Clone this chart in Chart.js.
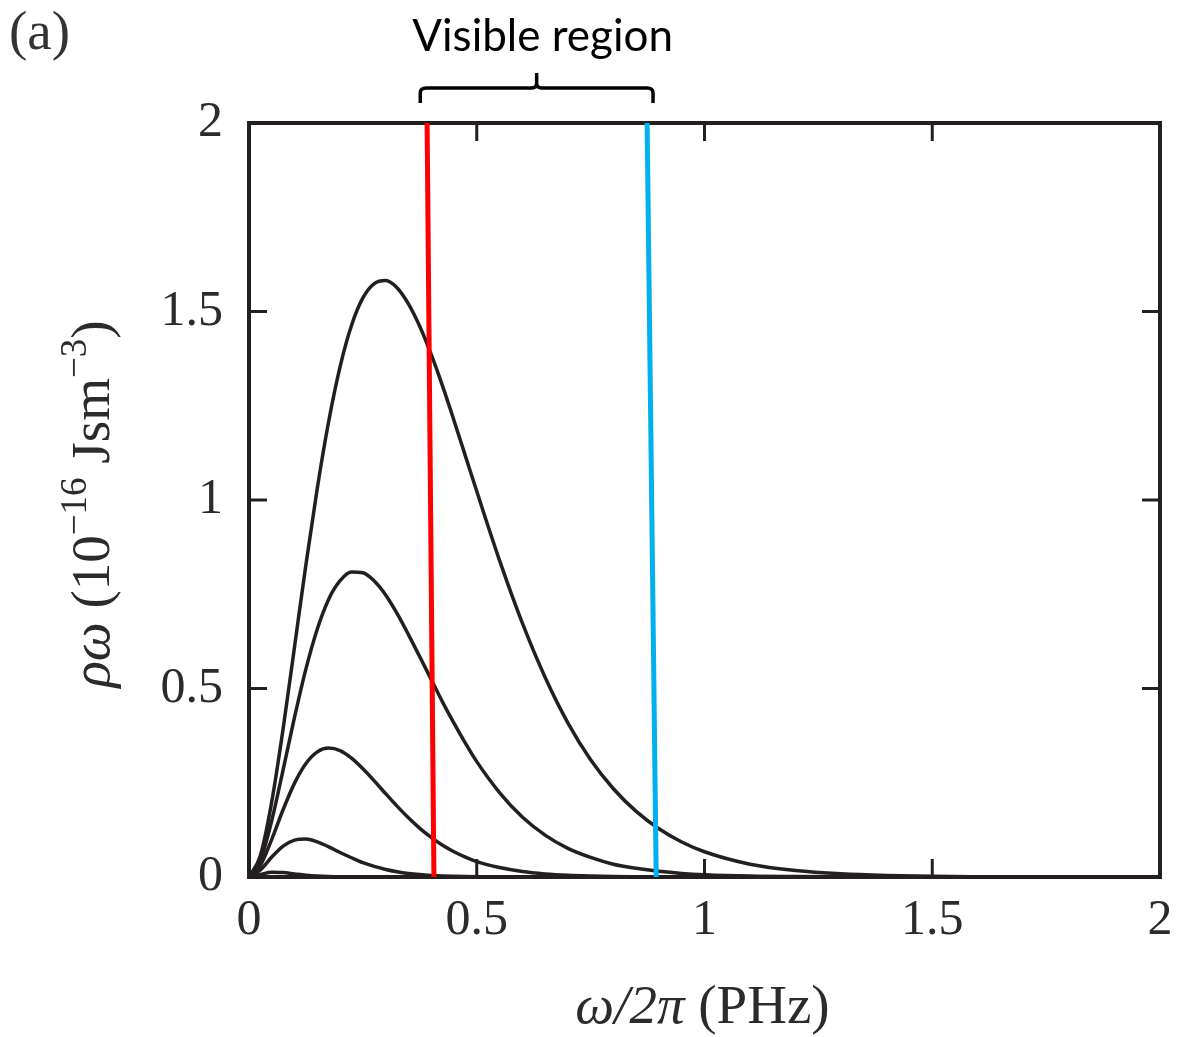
<!DOCTYPE html>
<html><head><meta charset="utf-8">
<script src="https://cdn.jsdelivr.net/npm/chart.js@4"></script>
<style>html,body{margin:0;padding:0;background:#fff;}</style>
</head><body>
<canvas id="c" width="1180" height="1037"></canvas>
<script>
// ---- data ----
const freq = [0,0.025,0.05,0.075,0.1,0.125,0.15,0.175,0.2,0.225,0.25,0.275,0.3,0.325,0.35,0.375,0.4,0.425,0.45,0.475,0.5,0.55,0.6,0.65,0.7,0.75,0.8,0.85,0.9,0.95,1.0,1.1,1.2,1.3,1.4,1.5,1.6,1.7,1.8,1.9,2.0];
const rhoT5000 = [0,0.057,0.200,0.394,0.611,0.829,1.032,1.209,1.354,1.463,1.536,1.574,1.582,1.563,1.520,1.460,1.386,1.302,1.211,1.117,1.023,0.840,0.674,0.530,0.409,0.311,0.234,0.174,0.128,0.093,0.067,0.034,0.017,0.0083,0.0040,0.0019,0.0009,0.0004,0.0002,0.0001,0.00004];
const rhoT4000 = [0,0.044,0.150,0.285,0.424,0.552,0.658,0.737,0.786,0.809,0.807,0.785,0.748,0.699,0.643,0.584,0.524,0.464,0.408,0.355,0.306,0.224,0.159,0.111,0.076,0.052,0.034,0.023,0.015,0.0095,0.0061,0.0024,0.0010,0.0004,0.00014,0.00005,0.00002,0.00001,0,0,0];
const rhoT3000 = [0,0.031,0.100,0.179,0.249,0.301,0.332,0.342,0.335,0.315,0.287,0.255,0.221,0.188,0.157,0.129,0.105,0.084,0.067,0.053,0.041,0.025,0.0145,0.0083,0.0046,0.0026,0.0014,0.0008,0.0004,0.0002,0.0001,0,0,0,0,0,0,0,0,0,0];
const rhoT2000 = [0,0.0187,0.053,0.082,0.098,0.101,0.093,0.080,0.065,0.051,0.038,0.028,0.020,0.014,0.0095,0.0064,0.0043,0.0028,0.0018,0.0012,0.0008,0.0003,0.0001,0.00005,0,0,0,0,0,0,0,0,0,0,0,0,0,0,0,0,0];
const rhoT1000 = [0,0.0066,0.0123,0.0117,0.0082,0.0048,0.0025,0.0012,0.0005,0.0002,0.0001,0,0,0,0,0,0,0,0,0,0,0,0,0,0,0,0,0,0,0,0,0,0,0,0,0,0,0,0,0,0];
const redEdgeX = [0.391, 0.406];
const redEdgeY = [2, 0];
const blueEdgeX = [0.874, 0.894];
const blueEdgeY = [2, 0];
const braceRange = [0.376, 0.887];
const tickValues = [0, 0.5, 1, 1.5, 2];
const tickLabels = ['0', '0.5', '1', '1.5', '2'];
const innerTicks = [0.5, 1, 1.5];
const xTitleParts = [{t: 'ω/2π', it: true}, {t: ' (PHz)'}];
const yTitleParts = [{t: 'ρω', it: true}, {t: ' (10'}, {t: '−16', sup: true}, {t: ' Jsm'}, {t: '−3', sup: true}, {t: ')'}];
const panelLabel = '(a)';
const annotationText = 'Visible region';

const pts = (xs, ys) => xs.map((v, i) => ({x: v, y: ys[i]}));
const ink = '#231f20';
const serif = '"Liberation Serif", "Times New Roman", serif';

const curve = (label, vals) => ({
  label, data: pts(freq, vals), borderColor: ink, borderWidth: 3.5,
  pointRadius: 0, fill: false, cubicInterpolationMode: 'monotone'
});

function drawRich(ctx, parts, size) {
  const fontOf = p => (p.it ? 'italic ' : '') + (p.sup ? Math.round(size * 0.68) : size) + 'px ' + serif;
  let total = 0;
  const widths = parts.map(p => { ctx.font = fontOf(p); const w = ctx.measureText(p.t).width; total += w; return w; });
  let x = -total / 2;
  ctx.textAlign = 'left';
  ctx.textBaseline = 'alphabetic';
  parts.forEach((p, i) => {
    ctx.font = fontOf(p);
    ctx.fillText(p.t, x, p.sup ? -size * 0.42 : 0);
    x += widths[i];
  });
}

const framePlugin = {
  id: 'frame',
  beforeDatasetsDraw(chart) {
    const {ctx, chartArea: a, scales: {x, y}} = chart;
    ctx.save();
    ctx.strokeStyle = ink;
    ctx.lineWidth = 4;
    ctx.strokeRect(a.left, a.top, a.right - a.left, a.bottom - a.top);
    ctx.lineWidth = 3;
    ctx.beginPath();
    innerTicks.forEach(v => {
      const px = x.getPixelForValue(v);
      ctx.moveTo(px, a.bottom); ctx.lineTo(px, a.bottom - 18);
      ctx.moveTo(px, a.top); ctx.lineTo(px, a.top + 18);
      const py = y.getPixelForValue(v);
      ctx.moveTo(a.left, py); ctx.lineTo(a.left + 18, py);
      ctx.moveTo(a.right, py); ctx.lineTo(a.right - 18, py);
    });
    ctx.stroke();
    ctx.restore();
  },
  afterDraw(chart) {
    const {ctx, chartArea: a, scales: {x}} = chart;
    ctx.save();
    ctx.fillStyle = '#2b2b2b';
    // axis titles
    ctx.save();
    ctx.translate((a.left + a.right) / 2 - 2, 1023);
    drawRich(ctx, xTitleParts, 55);
    ctx.restore();
    ctx.save();
    ctx.translate(109, (a.top + a.bottom) / 2 + 4);
    ctx.rotate(-Math.PI / 2);
    drawRich(ctx, yTitleParts, 55);
    ctx.restore();
    // panel label
    ctx.fillStyle = '#333';
    ctx.font = '55px ' + serif;
    ctx.textBaseline = 'alphabetic';
    ctx.textAlign = 'left';
    ctx.fillText(panelLabel, 9, 49);
    // annotation
    const x1 = x.getPixelForValue(braceRange[0]);
    const x2 = x.getPixelForValue(braceRange[1]);
    const xm = (x1 + x2) / 2;
    ctx.fillStyle = '#000';
    ctx.font = '44px Lato, "Open Sans", sans-serif';
    ctx.textAlign = 'center';
    ctx.fillText(annotationText, xm + 6, 51);
    ctx.strokeStyle = '#000';
    ctx.lineWidth = 3.5;
    ctx.beginPath();
    ctx.moveTo(x1, 103);
    ctx.lineTo(x1, 93);
    ctx.quadraticCurveTo(x1, 88, x1 + 6, 88);
    ctx.lineTo(xm - 5, 88);
    ctx.quadraticCurveTo(xm, 88, xm, 83);
    ctx.lineTo(xm, 73);
    ctx.moveTo(xm, 83);
    ctx.quadraticCurveTo(xm, 88, xm + 5, 88);
    ctx.lineTo(x2 - 6, 88);
    ctx.quadraticCurveTo(x2, 88, x2, 93);
    ctx.lineTo(x2, 103);
    ctx.stroke();
    ctx.restore();
  }
};

const tickCb = v => { const i = tickValues.findIndex(t => Math.abs(t - v) < 1e-9); return i >= 0 ? tickLabels[i] : ''; };

new Chart(document.getElementById('c'), {
  type: 'line',
  data: {
    datasets: [
      {label: 'red edge', data: pts(redEdgeX, redEdgeY), borderColor: '#ff0000', borderWidth: 5, pointRadius: 0, tension: 0},
      {label: 'blue edge', data: pts(blueEdgeX, blueEdgeY), borderColor: '#00b0f0', borderWidth: 5, pointRadius: 0, tension: 0},
      curve('5000 K', rhoT5000),
      curve('4000 K', rhoT4000),
      curve('3000 K', rhoT3000),
      curve('2000 K', rhoT2000),
      curve('1000 K', rhoT1000)
    ]
  },
  options: {
    responsive: false, animation: false, devicePixelRatio: 1,
    layout: {padding: {top: 123, right: 20, left: 0, bottom: 0}},
    plugins: {legend: {display: false}, tooltip: {enabled: false}, title: {display: false}},
    scales: {
      x: {
        type: 'linear', min: 0, max: 2,
        afterFit(s) { s.height = 160; s.paddingRight = 0; s.paddingLeft = 0; },
        grid: {display: false, drawTicks: false}, border: {display: false},
        ticks: {stepSize: 0.5, padding: 14, autoSkip: false, maxRotation: 0, color: '#2b2b2b', font: {family: serif, size: 50}, callback: tickCb},
        title: {display: false}
      },
      y: {
        type: 'linear', min: 0, max: 2,
        afterFit(s) { s.width = 249; s.paddingTop = 0; s.paddingBottom = 0; },
        grid: {display: false, drawTicks: false}, border: {display: false},
        ticks: {stepSize: 0.5, padding: 26, color: '#2b2b2b', font: {family: serif, size: 50}, callback: tickCb},
        title: {display: false}
      }
    }
  },
  plugins: [framePlugin]
});
</script>
</body></html>
